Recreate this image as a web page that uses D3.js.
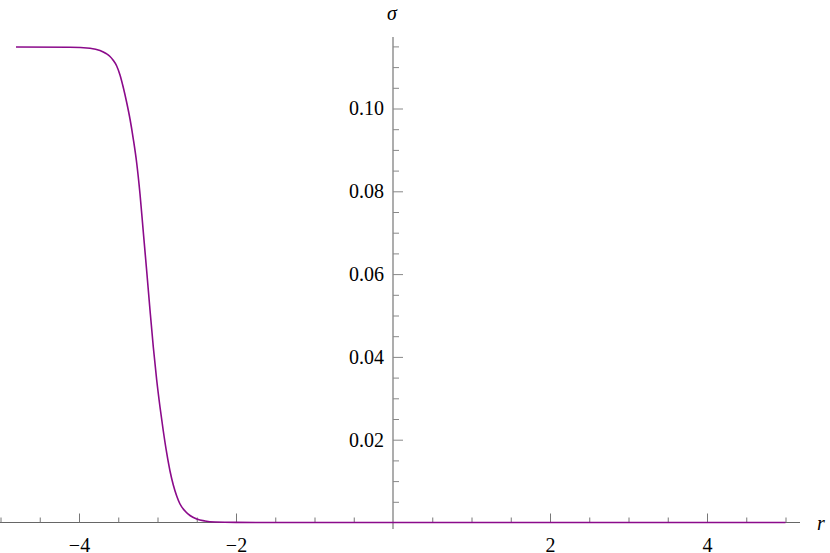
<!DOCTYPE html>
<html><head><meta charset="utf-8">
<script src="https://cdn.jsdelivr.net/npm/d3@7"></script>
<style>
body{margin:0;background:#fff;}
svg{display:block;}
</style></head><body>
<script>
// data
const rValues = [-4.8025,-4.1146,-3.8599,-3.7325,-3.6561,-3.6051,-3.5669,-3.5197,-3.4777,-3.4357,-3.3924,-3.3503,-3.3083,-3.2650,-3.2229,-3.1809,-3.1376,-3.0955,-3.0535,-3.0102,-2.9682,-2.9261,-2.8828,-2.8408,-2.7987,-2.7554,-2.7134,-2.6497,-2.5860,-2.5006,-2.3949,-2.2675,-2.0,-1.5669,-1,0,1,2,3,4,5];
const sigmaValues = [0.11486,0.11481,0.11454,0.11401,0.11329,0.11256,0.11171,0.11027,0.10809,0.10507,0.10145,0.09746,0.09263,0.08684,0.07935,0.07017,0.06075,0.05133,0.04239,0.03442,0.02790,0.02210,0.01679,0.01244,0.00906,0.00640,0.00447,0.00278,0.00169,0.00085,0.00036,0.00012,0.00002,0,0,0,0,0,0,0,0];
const xMajorTicks = [-4,-2,2,4];
const xTickLabels = ["−4","−2","2","4"];
const xMinorTicks = [-5,-4.5,-3.5,-3,-2.5,-1.5,-1,-0.5,0.5,1,1.5,2.5,3,3.5,4.5,5];
const yMajorTicks = [0.02,0.04,0.06,0.08,0.10];
const yTickLabels = ["0.02","0.04","0.06","0.08","0.10"];
const yMinorTicks = [0.005,0.01,0.015,0.025,0.03,0.035,0.045,0.05,0.055,0.065,0.07,0.075,0.085,0.09,0.095,0.105,0.11,0.115];

const FONT = "'Liberation Serif', 'Times New Roman', serif";
const W=830,H=553;
const svg=d3.select("body").append("svg").attr("width",W).attr("height",H);
const x=d3.scaleLinear().domain([-5,5]).range([0.5,785.5]);
const y=d3.scaleLinear().domain([0,0.1]).range([522.5,108.5]);
const axX = x(0), axY = y(0);

// axis lines
svg.append("line").attr("x1",0).attr("x2",800).attr("y1",axY).attr("y2",axY)
  .attr("stroke","#666").attr("stroke-width",1);
svg.append("line").attr("x1",axX).attr("x2",axX).attr("y1",37).attr("y2",529)
  .attr("stroke","#999").attr("stroke-width",1.6);

// x axis ticks
const gx=svg.append("g").attr("transform",`translate(0,${axY})`);
gx.call(d3.axisBottom(x).tickValues(xMajorTicks).tickFormat((d,i)=>xTickLabels[i]).tickSizeInner(-9).tickSizeOuter(0).tickPadding(14));
gx.append("g").call(d3.axisBottom(x).tickValues(xMinorTicks).tickFormat("").tickSizeInner(-5).tickSizeOuter(0));
gx.selectAll(".domain").remove();
gx.selectAll("line").attr("stroke","#777");
gx.attr("font-family",FONT).attr("font-size",20);
gx.selectAll("text").attr("dy","0").attr("y",29).attr("fill","#000");

// y axis ticks
const gy=svg.append("g").attr("transform",`translate(${axX},0)`);
gy.call(d3.axisLeft(y).tickValues(yMajorTicks).tickFormat((d,i)=>yTickLabels[i]).tickSizeInner(-10).tickSizeOuter(0).tickPadding(9));
gy.append("g").call(d3.axisLeft(y).tickValues(yMinorTicks).tickFormat("").tickSizeInner(-6).tickSizeOuter(0));
gy.selectAll(".domain").remove();
gy.selectAll("line").attr("stroke","#888");
gy.attr("font-family",FONT).attr("font-size",20);
gy.selectAll("text").attr("fill","#000");

// curve
const pts=rValues.map((r,i)=>[r,sigmaValues[i]]);
svg.append("path").datum(pts)
  .attr("d",d3.line().x(d=>x(d[0])).y(d=>y(d[1])).curve(d3.curveMonotoneX))
  .attr("fill","none").attr("stroke","#8b0a8b").attr("stroke-width",1.6);

// axis labels
svg.append("text").attr("x",821).attr("y",530).attr("text-anchor","middle")
  .attr("font-family",FONT).attr("font-style","italic").attr("font-size",20).text("r");
svg.append("text").attr("x",392).attr("y",20).attr("text-anchor","middle")
  .attr("font-family",FONT).attr("font-style","italic").attr("font-size",20).text("σ");
</script></body></html>
